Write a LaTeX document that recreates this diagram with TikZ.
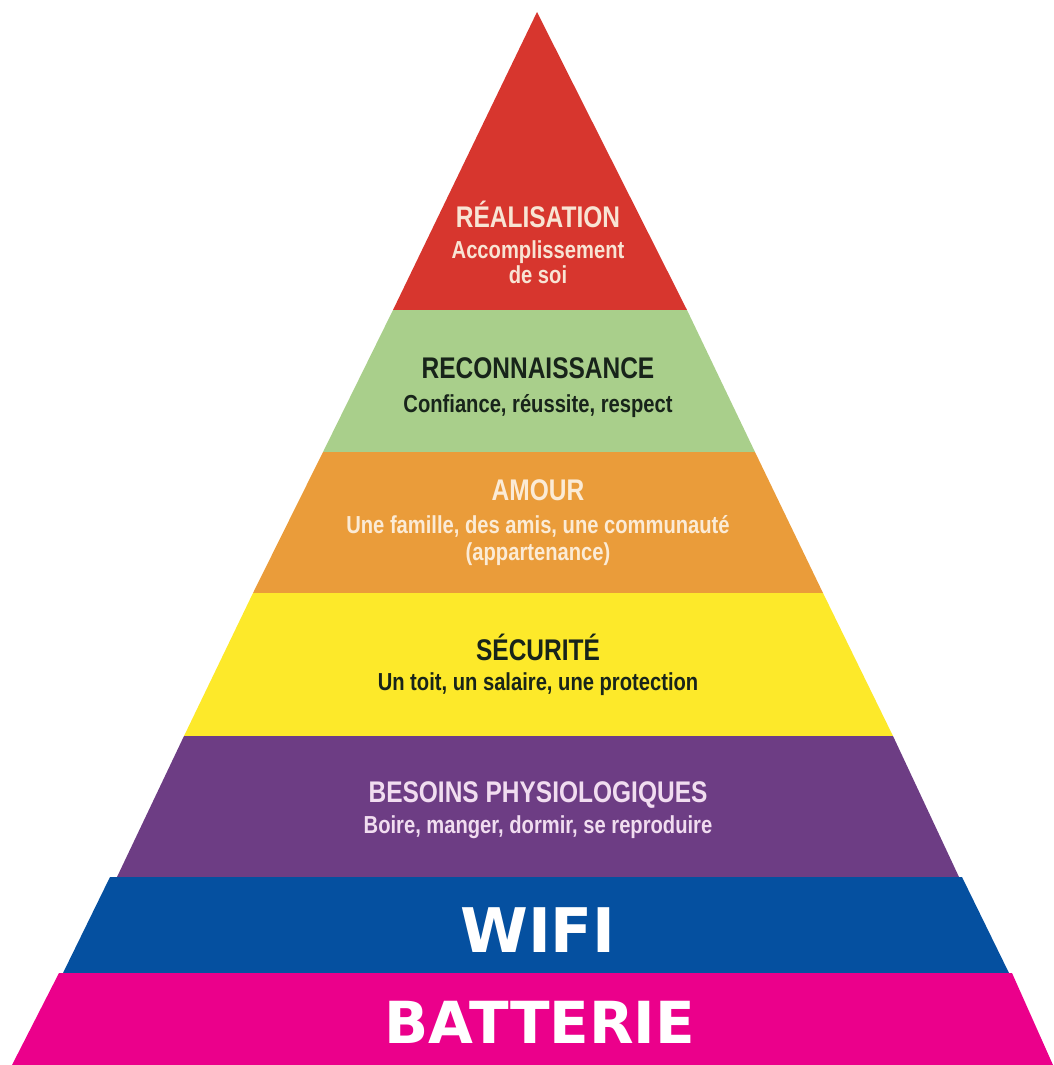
\documentclass[tikz,border=0pt]{standalone}
\usepackage{fontspec}
\newfontfamily\condfont[FakeStretch=0.82]{Liberation Sans}
\newfontfamily\heavyfont{DejaVu Sans}

\definecolor{realred}{RGB}{215,54,46}
\definecolor{recgreen}{RGB}{169,207,139}
\definecolor{amourorange}{RGB}{234,156,58}
\definecolor{secyellow}{RGB}{253,233,42}
\definecolor{physpurple}{RGB}{109,61,132}
\definecolor{wifiblue}{RGB}{5,80,160}
\definecolor{batpink}{RGB}{235,0,139}
\definecolor{realtext}{RGB}{248,228,212}
\definecolor{darktext}{RGB}{24,36,26}
\definecolor{amourtext}{RGB}{251,235,214}
\definecolor{phystext}{RGB}{241,221,240}

\begin{document}
\begin{tikzpicture}[x=0.02cm, y=-0.02cm,
	title/.style={font=\condfont\bfseries\fontsize{17}{20}\selectfont, anchor=base},
	sub/.style={font=\condfont\bfseries\fontsize{14}{17}\selectfont, anchor=base},
	big/.style={font=\heavyfont\bfseries\fontsize{33}{40}\selectfont, anchor=base, text=white}]

	\useasboundingbox (0, 0) rectangle (1054, 1065);

	\fill[realred] (537, 12) -- (687, 310) -- (393, 310) -- cycle; % Réalisation
	\fill[recgreen] (393, 310) -- (687, 310) -- (755, 452) -- (323, 452) -- cycle; % Reconnaissance
	\fill[amourorange] (323, 452) -- (755, 452) -- (823, 593) -- (253, 593) -- cycle; % Amour
	\fill[secyellow] (253, 593) -- (823, 593) -- (893, 736) -- (184, 736) -- cycle; % Sécurité
	\fill[physpurple] (184, 736) -- (893, 736) -- (959, 877) -- (117, 877) -- cycle; % Besoins
	\fill[wifiblue] (110, 877) -- (962, 877) -- (1009, 973) -- (63, 973) -- cycle; % Wifi
	\fill[batpink] (59, 973) -- (1012, 973) -- (1053, 1065) -- (12, 1065) -- cycle; % Batterie

	\node[title, text=realtext] (realisation) at (538, 227) {RÉALISATION};
	\node[sub, text=realtext] (accomp) at (538, 258) {Accomplissement};
	\node[sub, text=realtext] (soi) at (538, 283) {de soi};

	\node[title, text=darktext] (reconn) at (538, 378) {RECONNAISSANCE};
	\node[sub, text=darktext] (confiance) at (538, 412) {Confiance, réussite, respect};

	\node[title, text=amourtext] (amour) at (538, 500) {AMOUR};
	\node[sub, text=amourtext] (famille) at (538, 533) {Une famille, des amis, une communauté};
	\node[sub, text=amourtext] (appart) at (538, 560) {(appartenance)};

	\node[title, text=darktext] (securite) at (538, 660) {SÉCURITÉ};
	\node[sub, text=darktext] (toit) at (538, 690) {Un toit, un salaire, une protection};

	\node[title, text=phystext] (besoins) at (538, 802) {BESOINS PHYSIOLOGIQUES};
	\node[sub, text=phystext] (boire) at (538, 833) {Boire, manger, dormir, se reproduire};

	\node[big, font=\heavyfont\bfseries\fontsize{35}{40}\selectfont] (wifi) at (538, 952) {WIFI};
	\node[big] (batterie) at (540, 1043) {BATTERIE};
\end{tikzpicture}
\end{document}
